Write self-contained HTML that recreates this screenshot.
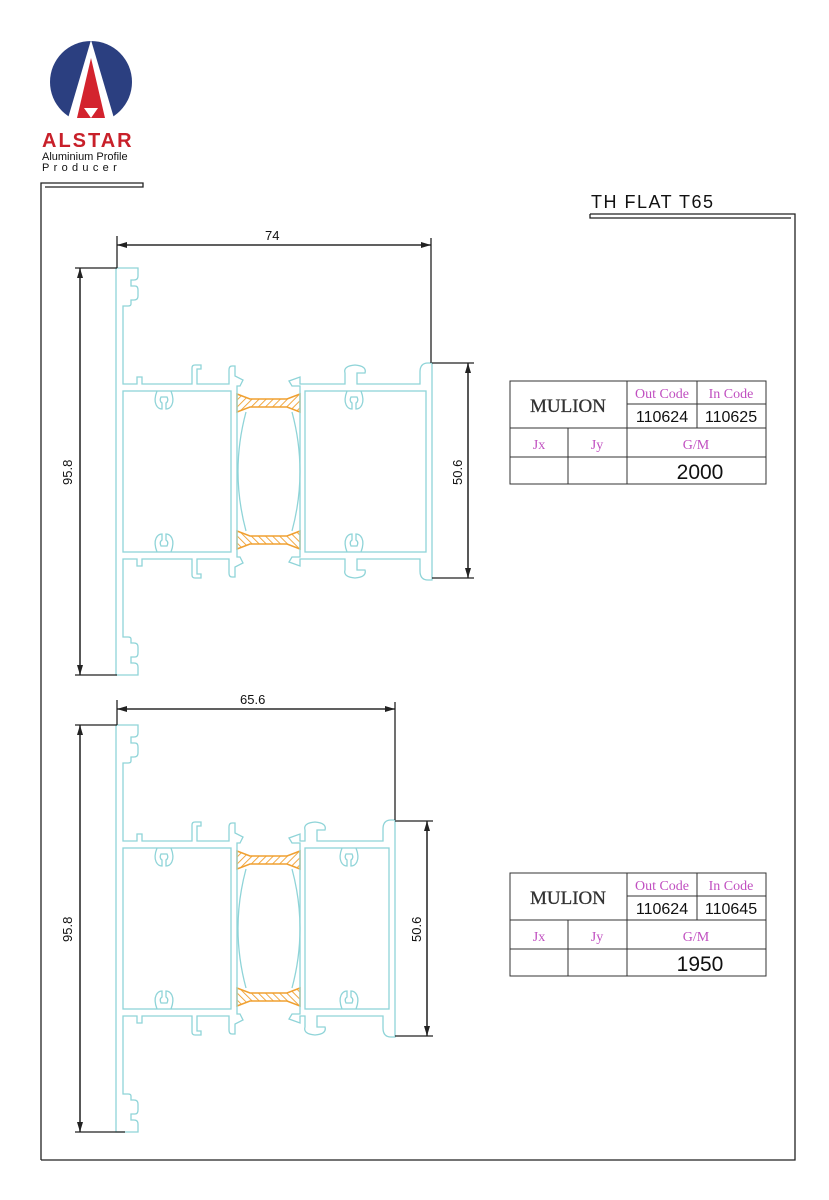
<!DOCTYPE html>
<html><head><meta charset="utf-8"><style>
html,body{margin:0;padding:0;background:#fff}
svg{display:block}
.p{fill:none;stroke:#8fd4d8;stroke-width:1.3}
.d{stroke:#222;stroke-width:1.3;fill:none}
.t{font-family:"Liberation Serif",serif;fill:#c04fc0;font-size:14px}
.n{font-family:"Liberation Sans",sans-serif;fill:#111}
</style></head><body>
<svg width="829" height="1200" viewBox="0 0 829 1200" xmlns="http://www.w3.org/2000/svg">
<defs>
<pattern id="h" width="5" height="5" patternUnits="userSpaceOnUse" patternTransform="rotate(45)">
<rect width="5" height="5" fill="#fff"/><line x1="0" y1="0" x2="0" y2="5" stroke="#f0a030" stroke-width="1.8"/></pattern>
<marker id="a" markerWidth="10" markerHeight="6" refX="10" refY="3" orient="auto" markerUnits="userSpaceOnUse"><path d="M0,0 L10,3 L0,6z" fill="#222"/></marker>
<g id="gk">
<path d="M237,394 L250,399 H287 L300,394 V412 L287,407 H250 L237,412Z" fill="url(#h)" stroke="#f0a030" stroke-width="1.5"/>
</g>
<g id="half1">
<path class="p" d="M116,471.5 V268 H138 V276 Q138,280 134,280 H131 V286 H135 Q138,286 138,290 V296 Q138,300 134,300 H131 V304 Q131,306 128,306 H123 V384 H137 V377 H142 V384 H192 V368 Q192,365 195,365 H201 V369 H197 V384 H229 V370 Q229,366 232,366 H235 V376 L243,380 L240,386 L237,386 V391"/>
<path class="p" d="M300,391 V386 L292,386 L289,381 L300,377 V384 H345 V373 Q343,366 355,365 Q367,366 365,373 H357 V384 H420 V372 Q420,363 428,363 H432 V471.5"/>
<path class="p" d="M157,391 C152,404 158,409 162,409 V403 Q159,401 161,397 H167 Q169,401 166,403 V409 C170,409 176,404 171,391"/>
<path class="p" d="M347,391 C342,404 348,409 352,409 V403 Q349,401 351,397 H357 Q359,401 356,403 V409 C360,409 366,404 361,391"/>
<use href="#gk"/>
</g>
<g id="half2">
<path class="p" d="M116,471.5 V268 H138 V276 Q138,280 134,280 H131 V286 H135 Q138,286 138,290 V296 Q138,300 134,300 H131 V304 Q131,306 128,306 H123 V384 H137 V377 H142 V384 H192 V368 Q192,365 195,365 H201 V369 H197 V384 H229 V370 Q229,366 232,366 H235 V376 L243,380 L240,386 L237,386 V391"/>
<path class="p" d="M300,391 V386 L292,386 L289,381 L300,377 V384 H305 V373 Q303,366 315,365 Q327,366 325,373 H317 V384 H383 V372 Q383,363 391,363 H395 V471.5"/>
<path class="p" d="M157,391 C152,404 158,409 162,409 V403 Q159,401 161,397 H167 Q169,401 166,403 V409 C170,409 176,404 171,391"/>
<path class="p" d="M342,391 C337,404 343,409 347,409 V403 Q344,401 346,397 H352 Q354,401 351,403 V409 C355,409 361,404 356,391"/>
<use href="#gk"/>
</g>
</defs>

<!-- logo -->
<circle cx="91" cy="82" r="41" fill="#2b3f80"/>
<path d="M91,40 L66,125 L116,125Z" fill="#fff"/>
<path d="M91,58 L77,118 L105,118Z" fill="#d3232e"/>
<path d="M84,108 L98,108 L91,118Z" fill="#fff"/>
<text x="42" y="147" font-family="Liberation Sans,sans-serif" font-weight="bold" font-size="20" fill="#c8202a" letter-spacing="2">ALSTAR</text>
<text x="42" y="160" class="n" font-size="11">Aluminium Profile</text>
<text x="42" y="171" class="n" font-size="11" letter-spacing="4.3">Producer</text>
<path d="M41,1160 V183 H143 V187 H45" class="d" stroke-width="1.2"/>

<!-- title -->
<text x="591" y="208" class="n" font-size="18" letter-spacing="1.5">TH FLAT T65</text>
<path d="M590,214 H795 V1160 H41 M590,214 V218 H791" class="d" stroke-width="1.3"/>

<!-- profile 1 -->
<use href="#half1"/>
<use href="#half1" transform="matrix(1,0,0,-1,0,943)"/>
<g class="p">
<rect x="123" y="391" width="108" height="161"/>
<rect x="305" y="391" width="121" height="161"/>
<line x1="237" y1="391" x2="237" y2="552"/><line x1="300" y1="391" x2="300" y2="552"/>
<path d="M246,412 Q230,471.5 246,531 M292,412 Q308,471.5 292,531"/>
</g>
<g class="d">
<line x1="117" y1="236" x2="117" y2="268"/>
<line x1="431" y1="238" x2="431" y2="363"/>
<line x1="431" y1="245" x2="117" y2="245" marker-end="url(#a)"/>
<line x1="117" y1="245" x2="431" y2="245" marker-end="url(#a)"/>
<line x1="75" y1="268" x2="117" y2="268"/><line x1="75" y1="675" x2="117" y2="675"/>
<line x1="80" y1="675" x2="80" y2="268" marker-end="url(#a)"/>
<line x1="80" y1="268" x2="80" y2="675" marker-end="url(#a)"/>
<line x1="432" y1="363" x2="474" y2="363"/><line x1="432" y1="578" x2="474" y2="578"/>
<line x1="468" y1="578" x2="468" y2="363" marker-end="url(#a)"/>
<line x1="468" y1="363" x2="468" y2="578" marker-end="url(#a)"/>
</g>
<text x="265" y="240" class="n" font-size="13">74</text>
<text transform="translate(72,485) rotate(-90)" class="n" font-size="13">95.8</text>
<text transform="translate(462,485) rotate(-90)" class="n" font-size="13">50.6</text>

<!-- profile 2 -->
<g transform="translate(0,457)">
<use href="#half2"/>
<use href="#half2" transform="matrix(1,0,0,-1,0,943)"/>
<g class="p">
<rect x="123" y="391" width="108" height="161"/>
<rect x="305" y="391" width="84" height="161"/>
<line x1="237" y1="391" x2="237" y2="552"/><line x1="300" y1="391" x2="300" y2="552"/>
<path d="M246,412 Q230,471.5 246,531 M292,412 Q308,471.5 292,531"/>
</g>
</g>
<g class="d">
<line x1="117" y1="700" x2="117" y2="725"/>
<line x1="395" y1="702" x2="395" y2="820"/>
<line x1="395" y1="709" x2="117" y2="709" marker-end="url(#a)"/>
<line x1="117" y1="709" x2="395" y2="709" marker-end="url(#a)"/>
<line x1="75" y1="725" x2="117" y2="725"/><line x1="75" y1="1132" x2="125" y2="1132"/>
<line x1="80" y1="1132" x2="80" y2="725" marker-end="url(#a)"/>
<line x1="80" y1="725" x2="80" y2="1132" marker-end="url(#a)"/>
<line x1="395" y1="821" x2="433" y2="821"/><line x1="395" y1="1036" x2="433" y2="1036"/>
<line x1="427" y1="1036" x2="427" y2="821" marker-end="url(#a)"/>
<line x1="427" y1="821" x2="427" y2="1036" marker-end="url(#a)"/>
</g>
<text x="240" y="704" class="n" font-size="13">65.6</text>
<text transform="translate(72,942) rotate(-90)" class="n" font-size="13">95.8</text>
<text transform="translate(421,942) rotate(-90)" class="n" font-size="13">50.6</text>

<!-- tables -->
<g>
<g fill="none" stroke="#333" stroke-width="1">
<rect x="510" y="381" width="256" height="103"/>
<line x1="627" y1="381" x2="627" y2="484"/>
<line x1="697" y1="381" x2="697" y2="428"/>
<line x1="627" y1="404" x2="766" y2="404"/>
<line x1="510" y1="428" x2="766" y2="428"/>
<line x1="510" y1="457" x2="766" y2="457"/>
<line x1="568" y1="428" x2="568" y2="484"/>
</g>
<text x="568" y="412" text-anchor="middle" font-family="Liberation Serif,serif" font-size="19" fill="#333" stroke="#333" stroke-width="0.3">MULION</text>
<text x="662" y="398" text-anchor="middle" class="t">Out Code</text>
<text x="731" y="398" text-anchor="middle" class="t">In Code</text>
<text x="662" y="422" text-anchor="middle" class="n" font-size="16">110624</text>
<text x="731" y="422" text-anchor="middle" class="n" font-size="16">110625</text>
<text x="539" y="449" text-anchor="middle" class="t" font-size="19">Jx</text>
<text x="597" y="449" text-anchor="middle" class="t" font-size="19">Jy</text>
<text x="696" y="449" text-anchor="middle" class="t" font-size="19">G/M</text>
<text x="700" y="479" text-anchor="middle" class="n" font-size="21">2000</text>
</g>
<g transform="translate(0,492)">
<g fill="none" stroke="#333" stroke-width="1">
<rect x="510" y="381" width="256" height="103"/>
<line x1="627" y1="381" x2="627" y2="484"/>
<line x1="697" y1="381" x2="697" y2="428"/>
<line x1="627" y1="404" x2="766" y2="404"/>
<line x1="510" y1="428" x2="766" y2="428"/>
<line x1="510" y1="457" x2="766" y2="457"/>
<line x1="568" y1="428" x2="568" y2="484"/>
</g>
<text x="568" y="412" text-anchor="middle" font-family="Liberation Serif,serif" font-size="19" fill="#333" stroke="#333" stroke-width="0.3">MULION</text>
<text x="662" y="398" text-anchor="middle" class="t">Out Code</text>
<text x="731" y="398" text-anchor="middle" class="t">In Code</text>
<text x="662" y="422" text-anchor="middle" class="n" font-size="16">110624</text>
<text x="731" y="422" text-anchor="middle" class="n" font-size="16">110645</text>
<text x="539" y="449" text-anchor="middle" class="t" font-size="19">Jx</text>
<text x="597" y="449" text-anchor="middle" class="t" font-size="19">Jy</text>
<text x="696" y="449" text-anchor="middle" class="t" font-size="19">G/M</text>
<text x="700" y="479" text-anchor="middle" class="n" font-size="21">1950</text>
</g>
</svg>
</body></html>
